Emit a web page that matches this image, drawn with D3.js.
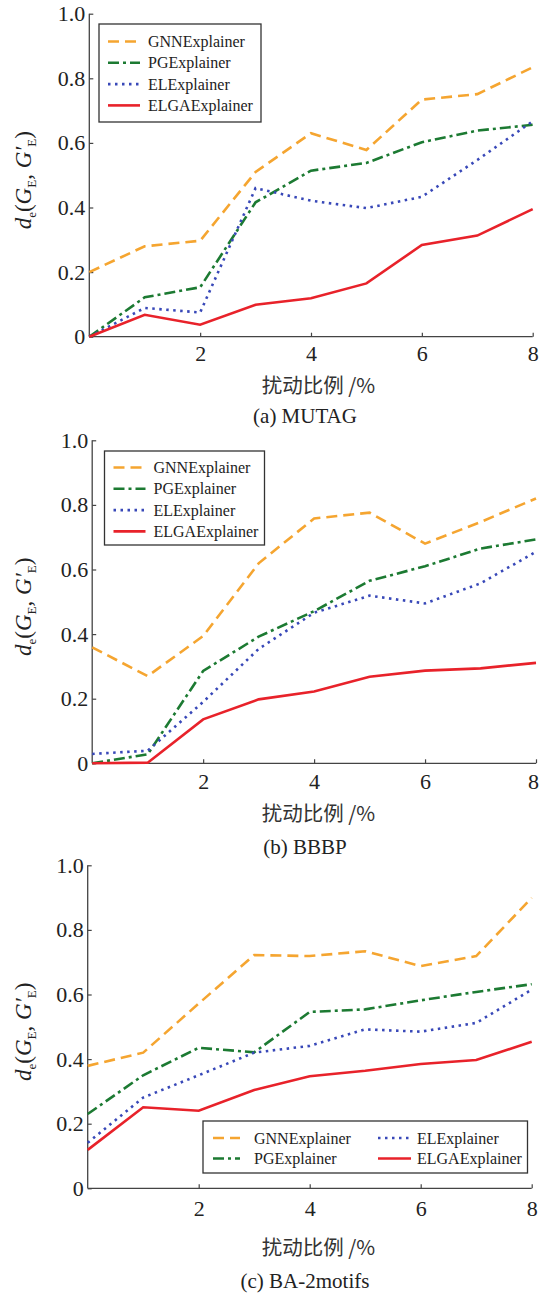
<!DOCTYPE html>
<html>
<head>
<meta charset="utf-8">
<script src="https://cdn.jsdelivr.net/npm/d3@7"></script>
<style>
  body { margin: 0; background: #fff; }
  svg { display: block; }
</style>
</head>
<body>
<svg id="chart" width="540" height="1294"></svg>
<script>
// perturbation ratio (%)
const xValues = [0, 1, 2, 3, 4, 5, 6, 7, 8];
const xTicks = [2, 4, 6, 8];
const yTicks = [0, 0.2, 0.4, 0.6, 0.8, 1.0];
const methods = ["GNNExplainer", "PGExplainer", "ELExplainer", "ELGAExplainer"];

// (a) MUTAG
const mutagGNN  = [0.20, 0.28, 0.297, 0.51, 0.63, 0.578, 0.734, 0.751, 0.834];
const mutagPG   = [0.00, 0.122, 0.153, 0.416, 0.514, 0.538, 0.602, 0.638, 0.656];
const mutagEL   = [0.00, 0.089, 0.075, 0.46, 0.421, 0.398, 0.433, 0.547, 0.667];
const mutagELGA = [0.00, 0.068, 0.037, 0.099, 0.119, 0.165, 0.284, 0.313, 0.395];

// (b) BBBP
const bbbpGNN  = [0.359, 0.27, 0.394, 0.619, 0.758, 0.776, 0.68, 0.747, 0.82];
const bbbpPG   = [0.00, 0.028, 0.286, 0.392, 0.471, 0.565, 0.61, 0.665, 0.693];
const bbbpEL   = [0.029, 0.039, 0.19, 0.354, 0.466, 0.519, 0.495, 0.557, 0.655];
const bbbpELGA = [0.00, 0.002, 0.136, 0.198, 0.222, 0.268, 0.287, 0.294, 0.311];

// (c) BA-2motifs
const baGNN  = [0.379, 0.42, 0.572, 0.722, 0.719, 0.734, 0.688, 0.719, 0.899];
const baPG   = [0.23, 0.35, 0.435, 0.421, 0.546, 0.554, 0.582, 0.608, 0.632];
const baEL   = [0.141, 0.281, 0.35, 0.42, 0.441, 0.492, 0.485, 0.512, 0.615];
const baELGA = [0.119, 0.251, 0.24, 0.304, 0.347, 0.364, 0.385, 0.397, 0.454];

const styles = {
  GNNExplainer:  { color: "#f5a530", dash: "11,6" },
  PGExplainer:   { color: "#1c7a32", dash: "11,4,3,4" },
  ELExplainer:   { color: "#3848b8", dash: "2.5,4.5" },
  ELGAExplainer: { color: "#e8222a", dash: null }
};

const SERIF = "'Liberation Serif', 'DejaVu Serif', serif";

const panels = [
  { caption: "(a) MUTAG", top: 13.7, bottom: 336.7, left: 89.3, right: 532.7,
    series: [mutagGNN, mutagPG, mutagEL, mutagELGA],
    tickPad: 8.5, titleDy: 48.5, capDy: 79.5,
    legend: { x: 99, y: 24, w: 162, h: 98, cols: 1, row0: 17.5 } },
  { caption: "(b) BBBP", top: 440.3, bottom: 763.3, left: 92.2, right: 536,
    series: [bbbpGNN, bbbpPG, bbbpEL, bbbpELGA],
    tickPad: 10.4, titleDy: 50, capDy: 83.4,
    legend: { x: 104.5, y: 451, w: 160, h: 94, cols: 1, row0: 16.5 } },
  { caption: "(c) BA-2motifs", top: 865.3, bottom: 1188.3, left: 87.7, right: 531.7,
    series: [baGNN, baPG, baEL, baELGA],
    tickPad: 12, titleDy: 59, capDy: 93,
    legend: { x: 203, y: 1121, w: 324.5, h: 52, cols: 2, row0: 17 } }
];

const svg = d3.select("#chart");

panels.forEach(p => {
  const x = d3.scaleLinear().domain([0, 8]).range([p.left, p.right]);
  const y = d3.scaleLinear().domain([0, 1]).range([p.bottom, p.top]);
  const g = svg.append("g");

  // axes, ticks point inward
  const xAxis = g.append("g")
    .attr("transform", "translate(0," + p.bottom + ")")
    .call(d3.axisBottom(x).tickValues(xTicks).tickSize(-4).tickPadding(p.tickPad)
      .tickFormat(d3.format("d")));
  const yAxis = g.append("g")
    .attr("transform", "translate(" + p.left + ",0)")
    .call(d3.axisLeft(y).tickValues(yTicks).tickSize(-4).tickPadding(4)
      .tickFormat(d => d === 0 ? "0" : d3.format(".1f")(d)));
  [xAxis, yAxis].forEach(a => {
    a.attr("font-family", null);
    a.select(".domain").attr("stroke", "#444").attr("stroke-width", 1.3);
    a.selectAll(".tick line").attr("stroke", "#444").attr("stroke-width", 1.2);
    a.selectAll(".tick text")
      .style("font-family", SERIF)
      .style("font-size", "22px")
      .attr("fill", "#222");
  });
  xAxis.select(".domain").attr("d", "M" + p.left + ",0H" + p.right);
  yAxis.select(".domain").attr("d", "M0," + p.bottom + "V" + p.top);
  // keep the last x label inside the page
  xAxis.selectAll(".tick text")
    .attr("x", d => Math.min(0, 533 - x(d)));

  // lines
  const line = d3.line().x((d, i) => x(xValues[i])).y(d => y(d));
  p.series.forEach((vals, k) => {
    const st = styles[methods[k]];
    g.append("path")
      .datum(vals)
      .attr("d", line)
      .attr("fill", "none")
      .attr("stroke", st.color)
      .attr("stroke-width", 2.6)
      .attr("stroke-dasharray", st.dash);
  });

  // y label d_e(G_E, G'_E)
  const cy = (p.top + p.bottom) / 2 + 5;
  const yl = g.append("text")
    .attr("transform", "translate(31," + cy + ") rotate(-90)")
    .attr("text-anchor", "middle")
    .style("font-family", SERIF)
    .style("font-size", "23px")
    .attr("fill", "#222");
  yl.append("tspan").attr("font-style", "italic").text("d");
  yl.append("tspan").attr("dy", 5).style("font-size", "13px").text("e");
  yl.append("tspan").attr("dy", -5).text("(");
  yl.append("tspan").attr("font-style", "italic").text("G");
  yl.append("tspan").attr("dy", 5).style("font-size", "13px").text("E");
  yl.append("tspan").attr("dy", -5).text(", ");
  yl.append("tspan").attr("font-style", "italic").text("G′");
  yl.append("tspan").attr("dy", 5).style("font-size", "13px").text("E");
  yl.append("tspan").attr("dy", -5).text(")");

  // x title and caption
  g.append("text")
    .attr("x", 318.5).attr("y", p.bottom + p.titleDy)
    .attr("dy", "0.36em")
    .attr("text-anchor", "middle")
    .style("font-family", "'Noto Sans CJK SC', 'Noto Sans', sans-serif")
    .style("font-size", "20.5px")
    .attr("fill", "#333")
    .text("扰动比例 /%");
  g.append("text")
    .attr("x", 305).attr("y", p.bottom + p.capDy)
    .attr("dy", "0.34em")
    .attr("text-anchor", "middle")
    .style("font-family", SERIF)
    .style("font-size", "21px")
    .attr("fill", "#222")
    .text(p.caption);

  // legend
  const L = p.legend;
  const lg = g.append("g");
  lg.append("rect")
    .attr("x", L.x).attr("y", L.y).attr("width", L.w).attr("height", L.h)
    .attr("fill", "#fff").attr("stroke", "#333").attr("stroke-width", 1.3);
  methods.forEach((name, k) => {
    let lx, ly, len, tx;
    if (L.cols === 1) {
      lx = L.x + 9; len = 32; tx = L.x + 49;
      ly = L.y + L.row0 + k * 21.3;
    } else {
      const col = Math.floor(k / 2), row = k % 2;
      lx = col === 0 ? L.x + 10 : L.x + 175;
      len = col === 0 ? 27 : 33;
      ly = L.y + L.row0 + row * 20.5;
      tx = col === 0 ? L.x + 51 : L.x + 214;
    }
    const st = styles[name];
    lg.append("line")
      .attr("x1", lx).attr("x2", lx + len).attr("y1", ly).attr("y2", ly)
      .attr("stroke", st.color).attr("stroke-width", 2.6)
      .attr("stroke-dasharray", st.dash);
    lg.append("text")
      .attr("x", tx).attr("y", ly)
      .attr("dy", "0.35em")
      .style("font-family", SERIF)
      .style("font-size", "16px")
      .attr("fill", "#222")
      .text(name);
  });
});
</script>
</body>
</html>
